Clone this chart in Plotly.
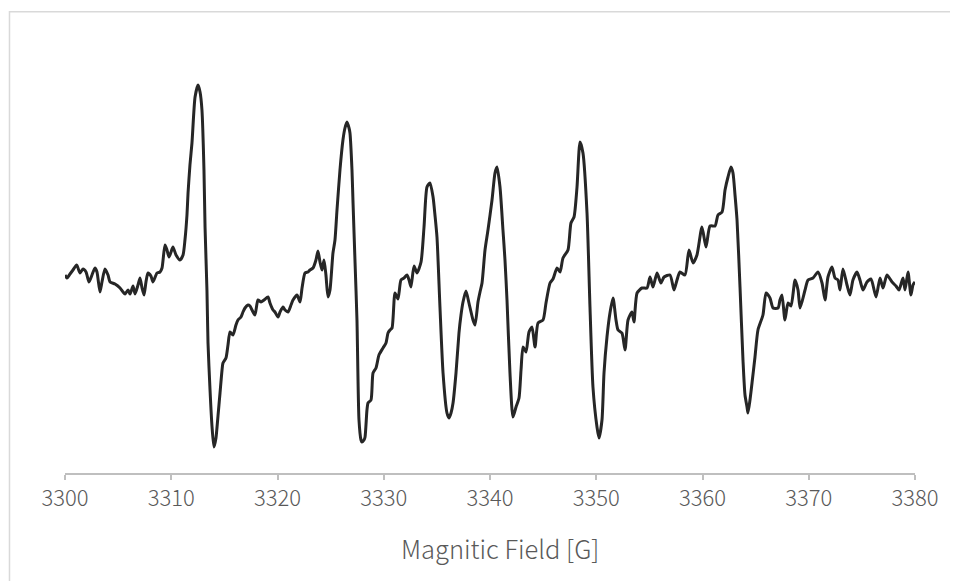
import plotly.graph_objects as go

# Magnetic field (G) and EPR signal (arbitrary units)
field = [
    3300.00, 3300.19, 3300.47, 3300.75, 3301.10, 3301.41, 3301.69, 3301.98, 3302.26, 3302.54,
    3302.82, 3303.01, 3303.29, 3303.48, 3303.76, 3304.05, 3304.24, 3304.71, 3305.18, 3305.46,
    3305.65, 3305.93, 3306.12, 3306.40, 3306.59, 3306.87, 3307.06, 3307.25, 3307.44, 3307.62,
    3307.81, 3308.09, 3308.28, 3308.66, 3308.94, 3309.13, 3309.41, 3309.60, 3309.79, 3309.98,
    3310.16, 3310.45, 3310.82, 3311.11, 3311.29, 3311.48, 3311.58, 3311.76, 3311.95, 3312.24,
    3312.52, 3312.71, 3312.89, 3313.08, 3313.18, 3313.36, 3313.46, 3313.65, 3313.84, 3314.02,
    3314.21, 3314.31, 3314.49, 3314.59, 3314.78, 3314.87, 3315.15, 3315.34, 3315.53, 3315.81,
    3316.09, 3316.28, 3316.56, 3316.75, 3316.94, 3317.22, 3317.41, 3317.60, 3317.88, 3318.16,
    3318.45, 3318.73, 3319.11, 3319.29, 3319.58, 3319.76, 3320.05, 3320.24, 3320.52, 3320.71,
    3320.99, 3321.27, 3321.46, 3321.84, 3322.12, 3322.31, 3322.59, 3322.87, 3323.06, 3323.34,
    3323.62, 3323.81, 3324.00, 3324.19, 3324.38, 3324.56, 3324.75, 3324.94, 3325.22, 3325.41,
    3325.60, 3325.88, 3326.16, 3326.35, 3326.54, 3326.73, 3326.82, 3327.01, 3327.11, 3327.29,
    3327.48, 3327.67, 3327.86, 3327.95, 3328.14, 3328.24, 3328.42, 3328.52, 3328.80, 3328.99,
    3329.27, 3329.55, 3329.93, 3330.21, 3330.40, 3330.59, 3330.78, 3331.06, 3331.34, 3331.62,
    3331.91, 3332.19, 3332.38, 3332.56, 3332.85, 3333.13, 3333.51, 3333.79, 3334.07, 3334.35,
    3334.64, 3334.82, 3335.01, 3335.29, 3335.58, 3335.95, 3336.14, 3336.33, 3336.52, 3336.80,
    3337.08, 3337.27, 3337.46, 3337.74, 3338.02, 3338.40, 3338.59, 3338.87, 3339.06, 3339.25,
    3339.53, 3339.81, 3340.19, 3340.47, 3340.66, 3340.94, 3341.22, 3341.41, 3341.60, 3341.88,
    3342.16, 3342.45, 3342.73, 3342.92, 3343.11, 3343.39, 3343.67, 3343.95, 3344.24, 3344.52,
    3344.99, 3345.27, 3345.65, 3345.93, 3346.31, 3346.59, 3346.87, 3347.34, 3347.62, 3347.91,
    3348.19, 3348.47, 3348.75, 3349.13, 3349.41, 3349.69, 3350.07, 3350.26, 3350.54, 3350.73,
    3351.01, 3351.29, 3351.58, 3351.86, 3352.05, 3352.42, 3352.71, 3352.99, 3353.36, 3353.55,
    3353.84, 3354.31, 3354.78, 3355.06, 3355.34, 3355.72, 3356.09, 3356.38, 3356.94, 3357.32,
    3357.60, 3357.88, 3358.35, 3358.73, 3359.11, 3359.48, 3359.95, 3360.33, 3360.71, 3361.18,
    3361.46, 3361.84, 3362.12, 3362.40, 3362.68, 3362.87, 3363.06, 3363.25, 3363.53, 3363.81,
    3364.00, 3364.19, 3364.28, 3364.47, 3364.66, 3364.94, 3365.22, 3365.69, 3365.98, 3366.35,
    3366.64, 3367.11, 3367.29, 3367.48, 3367.76, 3368.05, 3368.33, 3368.71, 3368.99, 3369.18,
    3369.65, 3369.93, 3370.40, 3370.87, 3371.25, 3371.53, 3371.81, 3372.19, 3372.47, 3372.75,
    3372.94, 3373.22, 3373.60, 3373.88, 3374.16, 3374.54, 3374.82, 3375.11, 3375.48, 3375.86,
    3376.33, 3376.71, 3376.99, 3377.36, 3377.84, 3378.21, 3378.49, 3378.87, 3379.06, 3379.34,
    3379.62, 3379.81, 3380.00,
]

signal = [
    0, -3, 1, 5, 10, 2, 6, 3, -7, 0,
    7, 3, -17, -7, 6, 0, -7, -9, -13, -17,
    -19, -15, -19, -11, -19, -10, -3, -13, -20, -7,
    2, -1, -7, 2, 3, 7, 30, 25, 18, 23,
    28, 20, 15, 20, 35, 60, 82, 110, 132, 178,
    190, 183, 165, 105, 48, -15, -68, -115, -152, -172,
    -163, -152, -130, -118, -95, -88, -83, -70, -57, -60,
    -50, -45, -42, -37, -33, -30, -31, -35, -40, -25,
    -27, -25, -22, -28, -35, -37, -42, -37, -32, -35,
    -37, -30, -25, -20, -27, -13, 2, 3, 5, 7,
    15, 24, 13, 5, 15, 0, -22, -15, 22, 35,
    65, 105, 135, 147, 153, 147, 142, 105, 72, 15,
    -45, -145, -165, -167, -165, -162, -135, -128, -125, -98,
    -93, -80, -73, -68, -58, -55, -53, -18, -24, -5,
    -3, 0, -5, -12, 9, 2, 13, 48, 88, 92,
    78, 60, 38, -32, -98, -138, -143, -138, -128, -98,
    -58, -40, -27, -16, -28, -45, -50, -27, -17, -8,
    25, 45, 75, 102, 108, 88, 45, 15, -25, -98,
    -142, -132, -123, -95, -72, -77, -57, -52, -72, -48,
    -45, -28, -8, -4, 7, 3, 17, 25, 52, 58,
    88, 133, 122, 62, -32, -112, -152, -163, -145, -98,
    -62, -38, -23, -45, -55, -58, -75, -45, -37, -47,
    -18, -13, -13, -2, -12, 2, -8, -2, 0, -15,
    -5, 3, 0, 25, 12, 20, 48, 28, 49, 49,
    60, 63, 85, 98, 108, 102, 80, 55, -12, -85,
    -120, -132, -138, -125, -108, -82, -55, -40, -18, -23,
    -33, -33, -25, -20, -45, -28, -31, -5, -15, -33,
    -15, -5, -3, 3, -8, -25, -2, 8, -3, -5,
    -15, 6, -10, -20, -5, 3, -5, -15, -7, -4,
    -22, -3, -13, 0, -7, -11, -15, -3, -15, 3,
    -20, -10, -7,
]

x_ticks = [3300, 3310, 3320, 3330, 3340, 3350, 3360, 3370, 3380]
x_title = "Magnitic Field [G]"

FONT = "Noto Sans CJK SC"
TEXT = "#595959"

fig = go.Figure()
fig.add_trace(go.Scatter(
    x=field, y=signal, mode="lines",
    line=dict(color="#262626", width=3, shape="spline", smoothing=0.6),
    showlegend=False, hoverinfo="skip",
))

fig.update_layout(
    width=950, height=573,
    margin=dict(l=57, r=43, t=12, b=108),
    paper_bgcolor="white", plot_bgcolor="white",
    font=dict(family=FONT, color=TEXT),
    shapes=[dict(
        type="rect", xref="paper", yref="paper",
        x0=-0.0653, x1=1.2, y0=-0.5, y1=1.0183,
        line=dict(color="#d9d9d9", width=1.5), fillcolor="rgba(0,0,0,0)", layer="below",
    )],
    annotations=[dict(
        text=x_title, xref="paper", yref="paper", x=0.512, y=-0.1634,
        xanchor="center", yanchor="middle", showarrow=False,
        font=dict(family=FONT, size=25.5, color=TEXT, weight=300),
    )],
)

fig.update_xaxes(
    range=[3300, 3380], tickvals=x_ticks, ticktext=[str(v) for v in x_ticks],
    showgrid=False, zeroline=False,
    showline=True, linecolor="#bfbfbf", linewidth=1.5,
    ticks="outside", ticklen=5, tickcolor="#bfbfbf", tickwidth=1.5,
    tickfont=dict(family=FONT, size=22, color=TEXT, weight=300),
)
fig.update_yaxes(
    range=[-198, 255], visible=False, showgrid=False, zeroline=False,
)

fig.write_html("out.html")
